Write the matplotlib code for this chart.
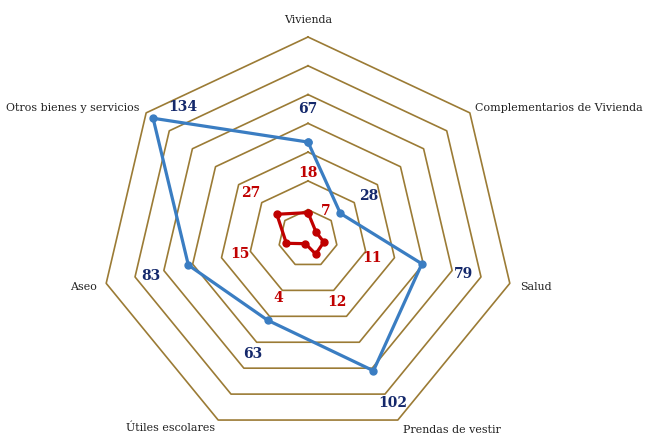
import numpy as np
import matplotlib
matplotlib.use("Agg")
import matplotlib.pyplot as plt

categories = ["Vivienda", "Complementarios de Vivienda", "Salud", "Prendas de vestir",
              "Útiles escolares", "Aseo", "Otros bienes y servicios"]
serie_azul = [67, 28, 79, 102, 63, 83, 134]
serie_roja = [18, 7, 11, 12, 4, 15, 27]
anillos = [20, 40, 60, 80, 100, 120, 140]

# label offsets in pixels (dx, dy) from each point
off_azul = [(0, 34), (28, 18), (42, -9), (19, -31), (-15, -33), (-37, -10), (30, 12)]
off_roja = [(0, 41), (10, 22), (48, -15), (21, -47), (-27, -53), (-46, -10), (-26, 22)]

n = len(categories)
ang = np.pi / 2 - np.arange(n) * 2 * np.pi / n


def xy(vals):
    v = np.asarray(vals, dtype=float)
    return v * np.cos(ang), v * np.sin(ang)


fig = plt.figure(figsize=(6.45, 4.35), dpi=100)
ax = fig.add_axes([0, 0, 1, 1])
sx, sy = 207 / 140, 201.5 / 140
ax.set_xlim(-308 / sx, (645 - 308) / sx)
ax.set_ylim(-(435 - 239.5) / sy, 239.5 / sy)
ax.axis("off")

ring_col = "#9B7B35"
for r in anillos:
    x, y = xy([r] * n)
    ax.plot(np.append(x, x[0]), np.append(y, y[0]), color=ring_col, lw=1.2, zorder=1)

for vals, col, lab_col, offs in [(serie_azul, "#3A7DC2", "#14286B", off_azul),
                                 (serie_roja, "#C00000", "#C00000", off_roja)]:
    x, y = xy(vals)
    ax.plot(np.append(x, x[0]), np.append(y, y[0]), color=col, lw=2.3,
            marker="o", ms=5, zorder=3)
    for xi, yi, v, (dx, dy) in zip(x, y, vals, offs):
        ax.annotate(str(v), (xi, yi), xytext=(dx, dy), textcoords="offset pixels",
                    ha="center", va="center", color=lab_col, fontsize=10,
                    fontweight="bold", family="DejaVu Serif", zorder=4)

# category names around the outer ring
lab_pos = [((308, 20), "center"), ((643, 108), "right"), ((520, 287), "left"),
           ((403, 430), "left"), ((215, 428), "right"), ((97, 287), "right"),
           ((140, 108), "right")]
for name, ((px, py), ha) in zip(categories, lab_pos):
    ax.text(px, 435 - py, name, transform=None, ha=ha, va="center",
            fontsize=7.9, family="DejaVu Serif", color="#222222")

fig.savefig("out.png", dpi=100)
